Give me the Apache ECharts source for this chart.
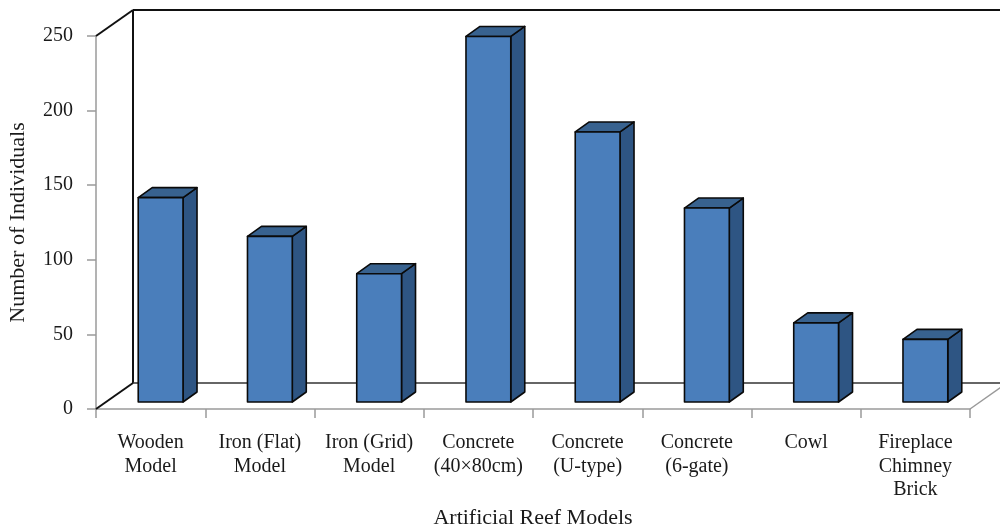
<!DOCTYPE html>
<html>
<head>
<meta charset="utf-8">
<script src="https://cdn.jsdelivr.net/npm/echarts@6/dist/echarts.min.js"></script>
<style>
  html, body { margin: 0; padding: 0; background: #fff; }
  #chart { width: 1000px; height: 527px; }
</style>
</head>
<body>
<div id="chart"></div>
<script>
// Reef models and individuals counted on each
const categories = [
  'Wooden\nModel',
  'Iron (Flat)\nModel',
  'Iron (Grid)\nModel',
  'Concrete\n(40×80cm)',
  'Concrete\n(U-type)',
  'Concrete\n(6-gate)',
  'Cowl',
  'Fireplace\nChimney\nBrick'
];
const individuals = [137, 111, 86, 245, 181, 130, 53, 42];
const yTicks = { min: 0, max: 250, step: 50 };

// Oblique "3D" look: depth of the box walls and of each bar (pixels)
const WALL = { dx: 37, dy: -26 };
const BAR_FRONT = { dx: 10, dy: -7 };
const BAR_DEPTH = { dx: 14, dy: -10 };
const FONT = 'Liberation Serif, Times New Roman, serif';
const INK = '#1a1a1a';

const chart = echarts.init(document.getElementById('chart'), null, { renderer: 'canvas' });

// Back wall, side wall and floor outline of the box
function renderWalls(params) {
  const c = params.coordSys;
  const x0 = c.x, y0 = c.y, x1 = c.x + c.width, y1 = c.y + c.height;
  const dx = WALL.dx, dy = WALL.dy;
  const line = (a, b, color, w) => ({
    type: 'line',
    shape: { x1: a[0], y1: a[1], x2: b[0], y2: b[1] },
    style: { stroke: color, lineWidth: w }
  });
  return {
    type: 'group',
    children: [
      line([x0 + dx, y0 + dy], [x1 + dx, y0 + dy], '#111', 2),
      line([x0 + dx, y0 + dy], [x0 + dx, y1 + dy], '#111', 2),
      line([x0 + dx, y1 + dy], [x1 + dx, y1 + dy], '#333', 1.6),
      line([x0, y0], [x0 + dx, y0 + dy], '#111', 2),
      line([x0, y1], [x0 + dx, y1 + dy], '#111', 2),
      line([x1, y1], [x1 + dx, y1 + dy], '#999', 1.5)
    ]
  };
}

// One box-shaped bar per category: front face, top face, side face
function renderBar(params, api) {
  const i = api.value(0);
  const top = api.coord([i, api.value(1)]);
  const base = api.coord([i, 0]);
  const band = api.size([1, 0])[0];
  const w = band * 0.41;
  const L = top[0] + BAR_FRONT.dx - w / 2;
  const R = L + w;
  const T = top[1] + BAR_FRONT.dy;
  const B = base[1] + BAR_FRONT.dy;
  const bx = BAR_DEPTH.dx, by = BAR_DEPTH.dy;
  const edge = { stroke: '#0a0a0a', lineWidth: 1.6, lineJoin: 'round' };
  return {
    type: 'group',
    children: [
      {
        type: 'polygon',
        shape: { points: [[R, T], [R + bx, T + by], [R + bx, B + by], [R, B]] },
        style: Object.assign({ fill: '#2e5583' }, edge)
      },
      {
        type: 'polygon',
        shape: { points: [[L, T], [R, T], [R + bx, T + by], [L + bx, T + by]] },
        style: Object.assign({ fill: '#38628f' }, edge)
      },
      {
        type: 'rect',
        shape: { x: L, y: T, width: w, height: B - T },
        style: Object.assign({ fill: '#4a7ebb' }, edge)
      }
    ]
  };
}

chart.setOption({
  animation: false,
  backgroundColor: '#ffffff',
  grid: {
    left: 96, right: 30, top: 36, bottom: 118,
    containLabel: false,
    outerBoundsMode: 'none'
  },
  xAxis: {
    type: 'category',
    data: categories,
    boundaryGap: true,
    name: 'Artificial Reef Models',
    nameLocation: 'middle',
    nameGap: 98,
    nameTextStyle: { fontFamily: FONT, fontSize: 22, color: INK },
    axisLine: { show: true, lineStyle: { color: '#9a9a9a', width: 1.5 } },
    axisTick: { show: true, length: 9, lineStyle: { color: '#9a9a9a', width: 1.5 } },
    axisLabel: {
      interval: 0,
      margin: 22,
      fontFamily: FONT,
      fontSize: 20,
      lineHeight: 23.5,
      color: INK
    },
    splitLine: { show: false }
  },
  yAxis: {
    type: 'value',
    min: yTicks.min,
    max: yTicks.max,
    interval: yTicks.step,
    name: 'Number of Individuals',
    nameLocation: 'middle',
    nameGap: 67,
    nameTextStyle: { fontFamily: FONT, fontSize: 22, color: INK },
    axisLine: { show: true, lineStyle: { color: '#9a9a9a', width: 1.5 } },
    axisTick: { show: true, length: 9, lineStyle: { color: '#9a9a9a', width: 1.5 } },
    axisLabel: { margin: 23, fontFamily: FONT, fontSize: 20, color: INK },
    splitLine: { show: false }
  },
  series: [
    {
      type: 'custom',
      name: 'walls',
      z: 1,
      clip: false,
      silent: true,
      renderItem: renderWalls,
      data: [[0, 0]]
    },
    {
      type: 'custom',
      name: 'Number of Individuals',
      z: 3,
      clip: false,
      renderItem: renderBar,
      encode: { x: 0, y: 1 },
      data: individuals.map((v, i) => [i, v])
    }
  ]
});
</script>
</body>
</html>
